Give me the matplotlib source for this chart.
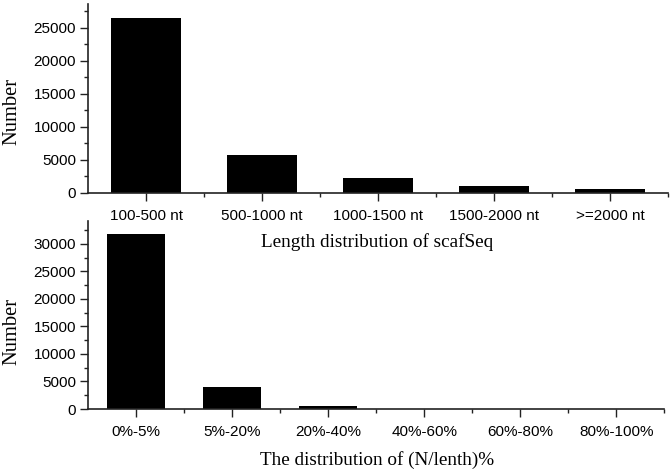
import matplotlib
matplotlib.use("Agg")
import matplotlib.pyplot as plt
from matplotlib.ticker import MultipleLocator, FixedLocator

# length distribution of scafSeq
len_cats = ["100-500 nt", "500-1000 nt", "1000-1500 nt", "1500-2000 nt", ">=2000 nt"]
len_counts = [26450, 5800, 2220, 1010, 650]

# (N/length)% distribution
n_cats = ["0%-5%", "5%-20%", "20%-40%", "40%-60%", "60%-80%", "80%-100%"]
n_counts = [31820, 3940, 600, 0, 0, 0]

sans = "Liberation Sans"
serif = "Liberation Serif"

fig = plt.figure(figsize=(6.72, 4.73), dpi=100)
ax1 = fig.add_axes([0.131, 0.592, 0.863, 0.3995])
ax2 = fig.add_axes([0.131, 0.1353, 0.8575, 0.398])


def style(ax, cats, counts, ymax):
    x = range(len(cats))
    ax.bar(x, counts, width=0.6, color="black", edgecolor="none")
    ax.set_xlim(-0.5, len(cats) - 0.5)
    ax.set_ylim(0, ymax)
    ax.set_xticks(list(x))
    ax.set_xticklabels(cats, fontname=sans, fontsize=11)
    ax.xaxis.set_minor_locator(FixedLocator([i + 0.5 for i in range(len(cats))]))
    ax.yaxis.set_major_locator(MultipleLocator(5000))
    ax.yaxis.set_minor_locator(MultipleLocator(2500))
    for lab in ax.get_yticklabels():
        lab.set_fontname(sans)
        lab.set_fontsize(11)
    for s in ["top", "right"]:
        ax.spines[s].set_visible(False)
    for s in ["left", "bottom"]:
        ax.spines[s].set_linewidth(1.2)
        ax.spines[s].set_color("#222222")
    ax.tick_params(which="major", direction="out", length=5.5, width=1.0, color="#222222", pad=3)
    ax.tick_params(which="minor", direction="out", length=3, width=1.0, color="#222222")
    ax.tick_params(axis="x", pad=6)


style(ax1, len_cats, len_counts, 28600)
style(ax2, n_cats, n_counts, 34200)

# x labels (top one sits over the lower panel, as in the original)
fig.text(377.5 / 672, 1 - 242 / 473, "Length distribution of scafSeq",
         ha="center", va="center", fontname=serif, fontsize=13.8)
fig.text(377.5 / 672, 1 - 460 / 473, "The distribution of (N/lenth)%",
         ha="center", va="center", fontname=serif, fontsize=13.8)

fig.text(0.018, 1 - 111 / 473, "Number", rotation=90, ha="center", va="center",
         fontname=serif, fontsize=14.8)
fig.text(0.018, 1 - 331 / 473, "Number", rotation=90, ha="center", va="center",
         fontname=serif, fontsize=14.8)

fig.savefig("out.png", dpi=100)
